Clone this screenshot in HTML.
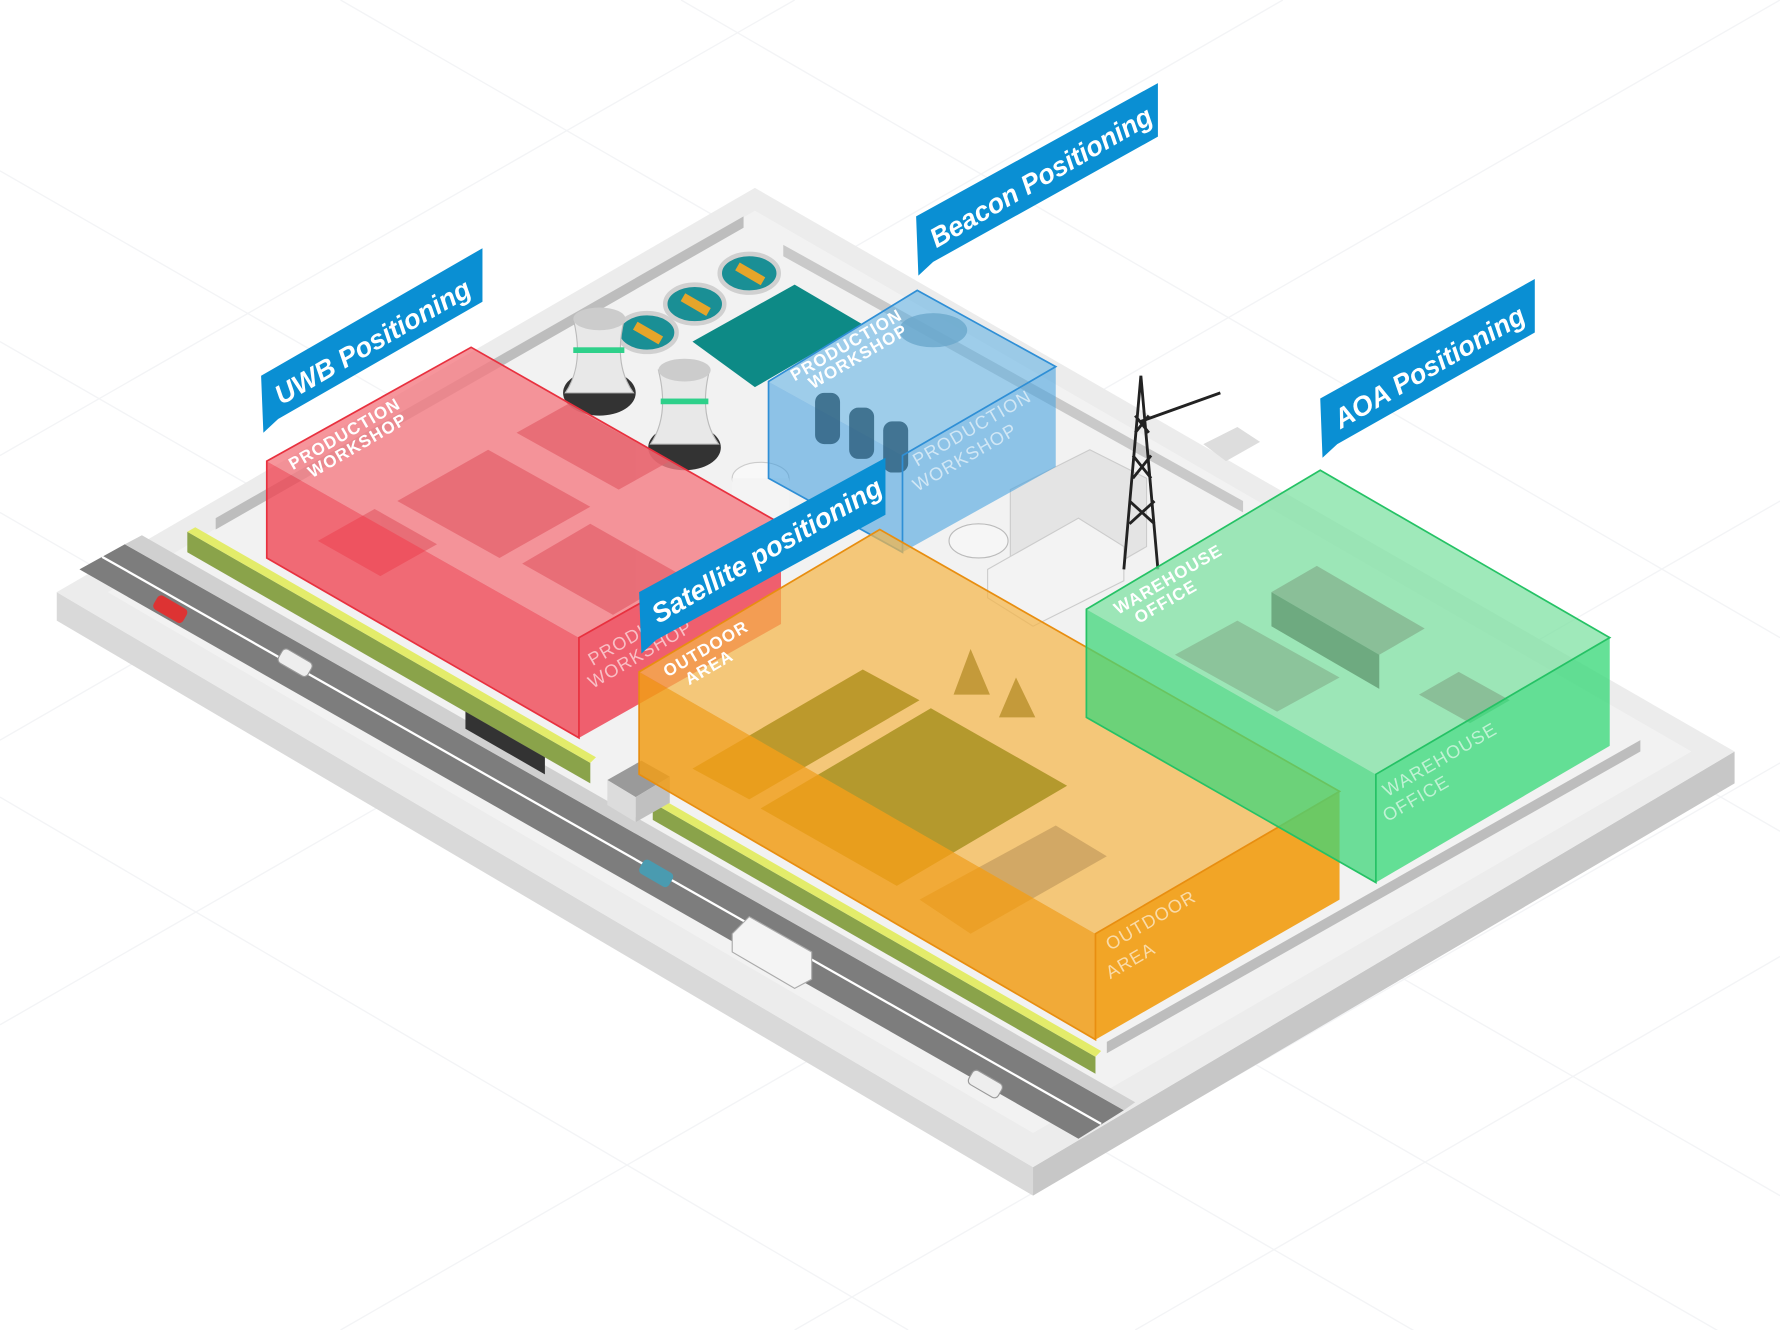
<!DOCTYPE html>
<html><head><meta charset="utf-8"><style>
html,body{margin:0;padding:0;background:#fff;}
svg{display:block;}
text{font-family:"Liberation Sans",sans-serif;}
</style></head><body>
<svg width="1780" height="1330" viewBox="0 0 1568 1168" preserveAspectRatio="none" xmlns="http://www.w3.org/2000/svg">
<rect width="1568" height="1168" fill="#fff"/>
<!-- faint grid -->
<g stroke="#f3f4f6" stroke-width="1.2">
<line x1="0" y1="300" x2="1568" y2="1200"/><line x1="0" y1="150" x2="1568" y2="1050"/><line x1="0" y1="450" x2="1300" y2="1200"/>
<line x1="0" y1="700" x2="800" y2="1168"/><line x1="300" y1="0" x2="1568" y2="730"/><line x1="600" y1="0" x2="1568" y2="560"/>
<line x1="0" y1="900" x2="1568" y2="0"/><line x1="300" y1="1168" x2="1568" y2="440"/><line x1="0" y1="650" x2="1130" y2="0"/>
<line x1="700" y1="1168" x2="1568" y2="670"/><line x1="0" y1="400" x2="700" y2="0"/><line x1="1000" y1="1168" x2="1568" y2="840"/>
</g>
<!-- platform -->
<polygon points="50,520 910,1025 910,1050 50,545" fill="#d9d9d9"/>
<polygon points="910,1025 1528,660 1528,688 910,1050" fill="#c7c7c7"/>
<polygon points="665,165 1528,660 910,1025 50,520" fill="#ececec"/>
<polygon points="665,185 1490,660 910,995 95,520" fill="#f2f2f2"/>
<!-- walls -->
<polygon points="190,455 655,190 655,200 190,465" fill="#bdbdbd"/>
<polygon points="690,215 1095,440 1095,450 690,225" fill="#c9c9c9"/>
<polygon points="975,915 1445,650 1445,660 975,925" fill="#bdbdbd"/>
<!-- road -->
<polygon points="70,500 110,478 990,975 950,1000" fill="#7d7d7d"/>
<polygon points="110,478 125,470 1000,968 990,975" fill="#d0d0d0"/>
<line x1="90" y1="489" x2="970" y2="987" stroke="#fff" stroke-width="2"/>
<!-- green strips -->
<polygon points="165,467 520,670 520,688 165,485" fill="#8aa34a"/>
<polygon points="165,467 172,463 525,665 520,670" fill="#e3ec6a"/>
<polygon points="575,705 965,928 965,943 575,720" fill="#8aa34a"/>
<polygon points="575,705 582,701 970,923 965,928" fill="#e3ec6a"/>
<!-- gate -->
<polygon points="535,685 565,668 590,682 560,700" fill="#9a9a9a"/>
<polygon points="535,685 560,700 560,722 535,707" fill="#dcdcdc"/>
<polygon points="560,700 590,682 590,705 560,722" fill="#c0c0c0"/>
<polygon points="410,625 480,665 480,680 410,640" fill="#333"/>
<!-- cars -->
<rect x="135" y="528" width="30" height="14" rx="4" fill="#d33" transform="rotate(30 150 535)"/>
<rect x="245" y="575" width="30" height="14" rx="4" fill="#eee" stroke="#999" transform="rotate(30 260 582)"/>
<rect x="563" y="760" width="30" height="14" rx="4" fill="#4a9bb0" transform="rotate(30 578 767)"/>
<rect x="853" y="945" width="30" height="14" rx="4" fill="#eee" stroke="#999" transform="rotate(30 868 952)"/>
<polygon points="645,820 660,805 715,836 715,860 700,868 645,836" fill="#f4f4f4" stroke="#aaa"/>
<!-- back facilities -->
<polygon points="610,300 700,250 760,285 665,340" fill="#0d8a86"/>
<g fill="#1a8f95" stroke="#d0d0d0" stroke-width="4">
<ellipse cx="570" cy="292" rx="26" ry="17"/><ellipse cx="612" cy="267" rx="26" ry="17"/><ellipse cx="660" cy="240" rx="26" ry="17"/>
</g>
<g fill="#e6a52a"><rect x="558" y="288" width="26" height="8" transform="rotate(30 570 292)"/><rect x="600" y="263" width="26" height="8" transform="rotate(30 612 267)"/><rect x="648" y="236" width="26" height="8" transform="rotate(30 660 240)"/></g>
<ellipse cx="528" cy="345" rx="32" ry="20" fill="#333"/>
<path d="M505,280 Q515,320 498,345 L558,345 Q540,320 550,280 Z" fill="#e8e8e8" stroke="#bbb"/>
<ellipse cx="528" cy="280" rx="23" ry="10" fill="#ccc"/>
<rect x="505" y="305" width="45" height="5" fill="#2ed08a"/>
<ellipse cx="603" cy="393" rx="32" ry="20" fill="#333"/>
<path d="M580,325 Q590,365 573,390 L633,390 Q615,365 625,325 Z" fill="#e8e8e8" stroke="#bbb"/>
<ellipse cx="603" cy="325" rx="23" ry="10" fill="#ccc"/>
<rect x="582" y="350" width="42" height="5" fill="#2ed08a"/>
<ellipse cx="670" cy="420" rx="25" ry="14" fill="#f8f8f8" stroke="#ccc"/>
<rect x="645" y="420" width="50" height="40" fill="#f4f4f4"/>
<!-- right industrial -->
<polygon points="890,430 960,395 1010,420 1010,480 940,520 890,490" fill="#e4e4e4" stroke="#ccc"/>
<polygon points="870,500 950,455 990,480 990,510 910,550 870,525" fill="#f3f3f3" stroke="#ccc"/>
<ellipse cx="862" cy="475" rx="26" ry="15" fill="#f6f6f6" stroke="#bbb"/>
<g stroke="#222" stroke-width="2.5" fill="none">
<path d="M990,500 L1005,330 L1020,500 M995,440 L1017,460 M1017,440 L995,460 M998,400 L1014,420 M1014,400 L998,420 M1000,365 L1012,380 M1012,365 L1000,380"/>
<path d="M1005,370 L1075,345"/>
</g>
<polygon points="1060,390 1090,375 1110,388 1080,405" fill="#ddd"/>
<!-- blue box -->
<polygon points="677,335 808,255 930,322 795,400" fill="#5aaee4" opacity="0.55"/>
<polygon points="677,335 795,400 795,485 677,420" fill="#3a9ade" opacity="0.55"/>
<polygon points="795,400 930,322 930,410 795,485" fill="#4aa3e0" opacity="0.6"/>
<g fill="#2b5e7d" opacity="0.8"><rect x="718" y="345" width="22" height="45" rx="8"/><rect x="748" y="358" width="22" height="45" rx="8"/><rect x="778" y="370" width="22" height="45" rx="8"/></g>
<ellipse cx="822" cy="290" rx="30" ry="15" fill="#6aa8cc" opacity="0.8"/>
<polygon points="677,335 808,255 930,322 795,400 795,485 677,420" fill="none" stroke="#2f8fd6" stroke-width="1.5"/>
<!-- red box -->
<polygon points="235,405 415,305 688,460 510,560" fill="#f47a82" opacity="0.8"/>
<g fill="#e45f6a" opacity="0.7"><polygon points="350,440 430,395 520,445 440,490"/><polygon points="455,380 500,355 590,405 545,430"/><polygon points="460,495 520,460 600,505 540,540"/><polygon points="280,475 330,447 385,478 335,506"/></g>
<polygon points="235,405 510,560 510,648 235,490" fill="#ef4452" opacity="0.78"/>
<polygon points="510,560 688,460 688,548 510,648" fill="#ee3e50" opacity="0.82"/>
<polygon points="235,405 415,305 688,460 510,560 510,648 235,490" fill="none" stroke="#e8313f" stroke-width="1.5"/>
<!-- orange box -->
<polygon points="563,590 775,465 1180,695 965,820" fill="#f4b54a" opacity="0.72"/>
<polygon points="610,675 760,588 810,615 660,702" fill="#b2911e" opacity="0.85"/>
<polygon points="670,710 820,622 940,690 790,778" fill="#a89020" opacity="0.85"/>
<polygon points="840,610 855,570 872,610" fill="#c49a3a"/><polygon points="880,630 895,595 912,630" fill="#c49a3a"/>
<polygon points="810,790 930,725 975,752 855,820" fill="#c9a060" opacity="0.8"/>
<polygon points="563,590 965,820 965,913 563,680" fill="#f19d18" opacity="0.85"/>
<polygon points="965,820 1180,695 1180,790 965,913" fill="#f29c10" opacity="0.9"/>
<polygon points="563,590 775,465 1180,695 965,820 965,913 563,680" fill="none" stroke="#e88e10" stroke-width="1.5"/>
<!-- green box -->
<polygon points="957,535 1163,413 1418,560 1212,680" fill="#7fe2a3" opacity="0.75"/>
<polygon points="1035,575 1090,545 1180,595 1125,625" fill="#8cc49b"/>
<polygon points="1120,520 1160,497 1255,552 1215,575" fill="#8abf98"/>
<polygon points="1120,520 1215,575 1215,605 1120,550" fill="#6eaa80"/>
<polygon points="1250,610 1285,590 1330,615 1295,635" fill="#8abf98"/>
<polygon points="957,535 1212,680 1212,775 957,630" fill="#3fd57a" opacity="0.75"/>
<polygon points="1212,680 1418,560 1418,655 1212,775" fill="#3ed97d" opacity="0.8"/>
<polygon points="957,535 1163,413 1418,560 1212,680 1212,775 957,630" fill="none" stroke="#25c265" stroke-width="1.5"/>
<!-- box labels -->
<g fill="#fff" font-size="15" font-weight="bold" letter-spacing="1">
<text transform="translate(258,413) rotate(-30)">PRODUCTION</text><text transform="translate(275,420) rotate(-30)">WORKSHOP</text>
<text transform="translate(700,335) rotate(-30)">PRODUCTION</text><text transform="translate(716,342) rotate(-30)">WORKSHOP</text>
<text transform="translate(588,595) rotate(-30)">OUTDOOR</text><text transform="translate(607,602) rotate(-30)">AREA</text>
<text transform="translate(985,540) rotate(-30)">WAREHOUSE</text><text transform="translate(1003,548) rotate(-30)">OFFICE</text>
</g>
<g fill="#fff" fill-opacity="0.6" font-size="16" letter-spacing="1">
<text transform="translate(808,410) rotate(-30)">PRODUCTION</text><text transform="translate(808,432) rotate(-30)">WORKSHOP</text>
<text transform="translate(522,585) rotate(-30)">PRODUCTION</text><text transform="translate(522,605) rotate(-30)">WORKSHOP</text>
<text transform="translate(978,835) rotate(-30)">OUTDOOR</text><text transform="translate(978,860) rotate(-30)">AREA</text>
<text transform="translate(1222,700) rotate(-30)">WAREHOUSE</text><text transform="translate(1222,722) rotate(-30)">OFFICE</text>
</g>
<!-- banners -->
<g fill="#0a8fd3">
<polygon points="230,330 425,218 425,265 245,368 232,380"/>
<polygon points="807,190 1020,73 1020,120 822,230 809,242"/>
<polygon points="1163,350 1352,245 1352,292 1178,390 1165,402"/>
<polygon points="563,520 780,402 780,452 578,562 565,574"/>
</g>
<g fill="#fff" font-size="24" font-weight="bold" font-style="italic">
<text transform="translate(248,356) rotate(-30)" textLength="195" lengthAdjust="spacingAndGlyphs">UWB Positioning</text>
<text transform="translate(825,218) rotate(-30)" textLength="222" lengthAdjust="spacingAndGlyphs">Beacon Positioning</text>
<text transform="translate(1181,377) rotate(-30)" textLength="190" lengthAdjust="spacingAndGlyphs">AOA Positioning</text>
<text transform="translate(580,548) rotate(-30)" textLength="230" lengthAdjust="spacingAndGlyphs">Satellite positioning</text>
</g>
</svg>
</body></html>
